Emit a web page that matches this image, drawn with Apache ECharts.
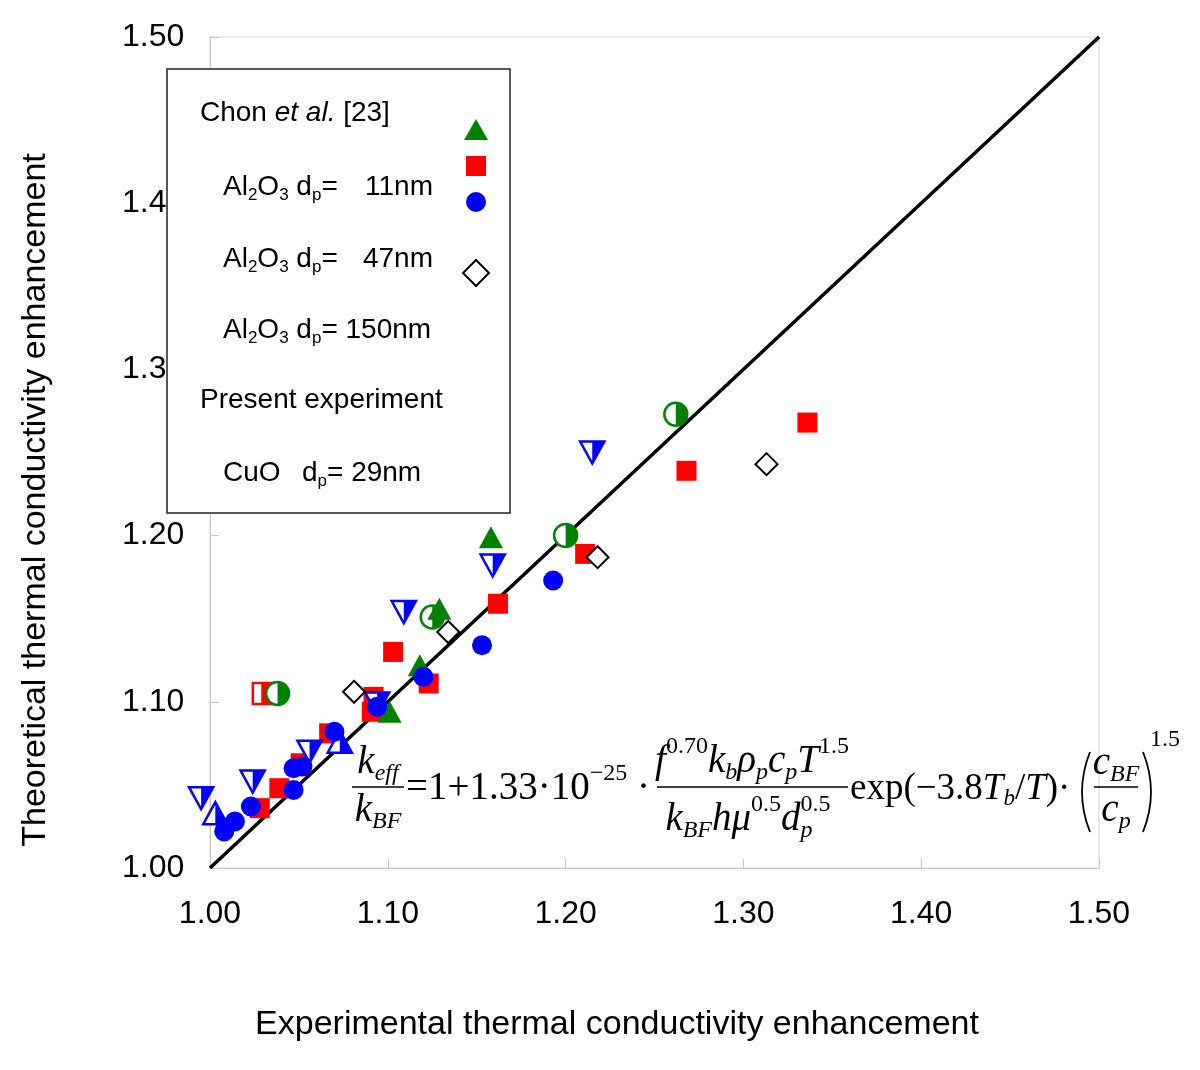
<!DOCTYPE html>
<html>
<head>
<meta charset="utf-8">
<script src="https://cdn.jsdelivr.net/npm/echarts@6/dist/echarts.min.js"></script>
<style>
  html, body { margin: 0; padding: 0; background: #fff; }
  #chart { width: 1200px; height: 1070px; }
</style>
</head>
<body>
<div id="chart"></div>
<script>
// tick labels
const xTicks = ['1.00', '1.10', '1.20', '1.30', '1.40', '1.50'];
const yTicks = ['1.00', '1.10', '1.20', '1.3', '1.4', '1.50'];

// Chon et al. [23]  [experimental, theoretical]
const chonTriangle = [[1.158, 1.199], [1.129, 1.156], [1.118, 1.122], [1.101, 1.094]];
const chonSquare = [[1.336, 1.268], [1.268, 1.239], [1.211, 1.189], [1.162, 1.159], [1.103, 1.130],
  [1.123, 1.111], [1.092, 1.103], [1.091, 1.094], [1.067, 1.081], [1.051, 1.063], [1.039, 1.048], [1.028, 1.036]];
const chonCircle = [[1.193, 1.173], [1.153, 1.134], [1.120, 1.115], [1.094, 1.097], [1.070, 1.082],
  [1.052, 1.061], [1.047, 1.060], [1.047, 1.047], [1.023, 1.037], [1.014, 1.028], [1.008, 1.022]];
const chonDiamond = [[1.313, 1.243], [1.218, 1.187], [1.134, 1.142], [1.081, 1.106]];
const chonHalfTriangle = [[1.003, 1.033], [1.073, 1.076]];
const chonHalfSquare = [[1.030, 1.105]];

// present experiment, CuO dp = 29nm
const cuoDownTriangle = [[1.215, 1.250], [1.159, 1.182], [1.109, 1.154], [1.094, 1.099],
  [1.056, 1.070], [1.024, 1.052], [0.995, 1.042]];
const cuoHalfCircle = [[1.262, 1.273], [1.200, 1.200], [1.125, 1.151], [1.038, 1.105]];

// y = x reference line
const diagonal = [[1.0, 1.0], [1.5, 1.5]];

const GREEN = '#008000', RED = '#ff0000', BLUE = '#0000ff';
const SANS = 'Liberation Sans', SERIF = 'Liberation Serif';

// half open / half filled markers (left open, right filled)
function halfMarker(kind, x, y, color, size) {
  const s = size / 2;
  let outline, half;
  if (kind === 'up') {
    outline = { type: 'polygon', shape: { points: [[x, y - s], [x + s * 1.1, y + s], [x - s * 1.1, y + s]] } };
    half = { type: 'polygon', shape: { points: [[x, y - s], [x + s * 1.1, y + s], [x, y + s]] } };
  } else if (kind === 'down') {
    outline = { type: 'polygon', shape: { points: [[x - s * 1.1, y - s], [x + s * 1.1, y - s], [x, y + s]] } };
    half = { type: 'polygon', shape: { points: [[x, y - s], [x + s * 1.1, y - s], [x, y + s]] } };
  } else if (kind === 'square') {
    outline = { type: 'rect', shape: { x: x - s, y: y - s, width: size, height: size } };
    half = { type: 'rect', shape: { x: x - s * 0.2, y: y - s, width: s * 1.2, height: size } };
  } else {
    outline = { type: 'circle', shape: { cx: x, cy: y, r: s } };
    half = { type: 'sector', shape: { cx: x, cy: y, r: s, r0: 0, startAngle: -Math.PI / 2, endAngle: Math.PI / 2, clockwise: true } };
  }
  outline.style = { fill: '#fff', stroke: color, lineWidth: 2.5 };
  half.style = { fill: color };
  return { type: 'group', children: [outline, half] };
}

function halfSeries(name, data, kind, color, size, z) {
  return {
    name: name, type: 'custom', data: data, z: z,
    encode: { x: 0, y: 1 },
    renderItem: function (params, api) {
      const p = api.coord([api.value(0), api.value(1)]);
      return halfMarker(kind, p[0], p[1], color, size);
    }
  };
}

// lay text runs with sub/superscripts
const measureCtx = document.createElement('canvas').getContext('2d');
function textRun(tokens, x0, y0, size, family, align) {
  const pieces = [];
  let x = 0;
  tokens.forEach(([t, kind, hold]) => {
    const small = kind === 'sub' || kind === 'isub' || kind === 'sup';
    const fs = small ? Math.round(size * 0.62) : size;
    const italic = kind === 'i' || kind === 'isub';
    const dy = (kind === 'sub' || kind === 'isub') ? size * 0.28 : (kind === 'sup' ? -size * 0.38 : 0);
    measureCtx.font = (italic ? 'italic ' : '') + fs + 'px "' + family + '"';
    const w = measureCtx.measureText(t).width;
    pieces.push({ t: t, fs: fs, italic: italic, dx: x, dy: dy });
    if (!hold) x += w;
  });
  const start = align === 'center' ? x0 - x / 2 : (align === 'right' ? x0 - x : x0);
  return pieces.map(p => ({
    type: 'text', x: start + p.dx, y: y0 + p.dy, z: 20,
    style: {
      text: p.t, fontSize: p.fs, fontFamily: family, fontStyle: p.italic ? 'italic' : 'normal',
      fill: '#000', align: 'left', verticalAlign: 'middle'
    }
  }));
}

function hline(x1, x2, y) {
  return { type: 'line', z: 20, shape: { x1: x1, y1: y, x2: x2, y2: y }, style: { stroke: '#000', lineWidth: 1.6 } };
}

function paren(x, top, bottom, bulge) {
  return {
    type: 'bezierCurve', z: 20,
    shape: { x1: x, y1: top, x2: x, y2: bottom, cpx1: x + bulge, cpy1: (top + bottom) / 2 },
    style: { stroke: '#000', lineWidth: 1.8, fill: null }
  };
}

// legend box
const legend = [
  { type: 'rect', z: 15, shape: { x: 167, y: 69, width: 343, height: 444 }, style: { fill: '#fff', stroke: '#222', lineWidth: 1.5 } },
  ...textRun([['Chon ', 'n'], ['et al.', 'i'], [' [23]', 'n']], 200, 113, 28, SANS),
  ...textRun([['Al', 'n'], ['2', 'sub'], ['O', 'n'], ['3', 'sub'], [' d', 'n'], ['p', 'sub'], ['=', 'n']], 223, 187, 28, SANS),
  ...textRun([['11nm', 'n']], 433, 187, 28, SANS, 'right'),
  ...textRun([['Al', 'n'], ['2', 'sub'], ['O', 'n'], ['3', 'sub'], [' d', 'n'], ['p', 'sub'], ['=', 'n']], 223, 259, 28, SANS),
  ...textRun([['47nm', 'n']], 433, 259, 28, SANS, 'right'),
  ...textRun([['Al', 'n'], ['2', 'sub'], ['O', 'n'], ['3', 'sub'], [' d', 'n'], ['p', 'sub'], ['= 150nm', 'n']], 223, 330, 28, SANS),
  ...textRun([['Present experiment', 'n']], 200, 400, 28, SANS),
  ...textRun([['CuO', 'n']], 223, 473, 28, SANS),
  ...textRun([['d', 'n'], ['p', 'sub'], ['= 29nm', 'n']], 302, 473, 28, SANS),
  { type: 'polygon', z: 20, shape: { points: [[476, 119], [488, 140], [464, 140]] }, style: { fill: GREEN } },
  { type: 'rect', z: 20, shape: { x: 466, y: 156, width: 20, height: 20 }, style: { fill: RED } },
  { type: 'circle', z: 20, shape: { cx: 476, cy: 202, r: 10 }, style: { fill: BLUE } },
  { type: 'polygon', z: 20, shape: { points: [[476, 260], [489, 273], [476, 286], [463, 273]] }, style: { fill: '#fff', stroke: '#000', lineWidth: 2 } },
  Object.assign(halfMarker('up', 478, 338, BLUE, 22), { z: 20 }),
  Object.assign(halfMarker('square', 476, 377, RED, 22), { z: 20 }),
  Object.assign(halfMarker('down', 479, 452, BLUE, 22), { z: 20 }),
  Object.assign(halfMarker('circle', 477, 487, GREEN, 22), { z: 20 })
];

// correlation formula
const FS = 39;
const formula = [
  ...textRun([['k', 'i'], ['eff', 'isub']], 378, 763, FS, SERIF, 'center'),
  hline(352, 404, 787),
  ...textRun([['k', 'i'], ['BF', 'isub']], 378, 811, FS, SERIF, 'center'),
  ...textRun([['=1+1.33·10', 'n'], ['−25', 'sup'], [' ·', 'n']], 406, 789, FS, SERIF),
  ...textRun([['f', 'i'], ['0.70', 'sup'], ['k', 'i'], ['b', 'isub'], ['ρ', 'i'], ['p', 'isub'], ['c', 'i'], ['p', 'isub'], ['T', 'i'], ['1.5', 'sup']], 752, 762, FS, SERIF, 'center'),
  hline(657, 848, 787),
  ...textRun([['k', 'i'], ['BF', 'isub'], ['h', 'i'], ['μ', 'i'], ['0.5', 'sup'], ['d', 'i'], ['p', 'isub', true], ['0.5', 'sup']], 748, 820, FS, SERIF, 'center'),
  ...textRun([['exp(−3.8', 'n'], ['T', 'i'], ['b', 'isub'], ['/', 'n'], ['T', 'i'], [')·', 'n']], 850, 789, 37, SERIF),
  paren(1090, 752, 832, -16),
  ...textRun([['c', 'i'], ['BF', 'isub']], 1116, 764, FS, SERIF, 'center'),
  hline(1094, 1138, 787),
  ...textRun([['c', 'i'], ['p', 'isub']], 1116, 811, FS, SERIF, 'center'),
  paren(1143, 752, 832, 16),
  ...textRun([['1.5', 'n']], 1150, 740, 24, SERIF)
];

const titles = [
  { type: 'text', x: 617, y: 1025, style: { text: 'Experimental thermal conductivity enhancement', fontSize: 34, fontFamily: SANS, fill: '#000', align: 'center', verticalAlign: 'middle' } },
  { type: 'text', x: 36, y: 500, rotation: Math.PI / 2, style: { text: 'Theoretical thermal conductivity enhancement', fontSize: 34, fontFamily: SANS, fill: '#000', align: 'center', verticalAlign: 'middle' } }
];

const chart = echarts.init(document.getElementById('chart'));
chart.setOption({
  animation: false,
  backgroundColor: '#fff',
  grid: { left: 210, right: 101, top: 37, bottom: 202, show: true, borderColor: '#d4d4d4', borderWidth: 1 },
  xAxis: {
    type: 'value', min: 1, max: 1.5, interval: 0.1,
    axisLine: { show: true, lineStyle: { color: '#c8c8c8', width: 1 } },
    axisTick: { show: true, inside: true, length: 9, lineStyle: { color: '#c8c8c8' } },
    splitLine: { show: false },
    axisLabel: { formatter: v => xTicks[Math.round((v - 1) * 10)], fontSize: 32, fontFamily: SANS, color: '#000', margin: 30 }
  },
  yAxis: {
    type: 'value', min: 1, max: 1.5, interval: 0.1,
    axisLine: { show: true, lineStyle: { color: '#c8c8c8', width: 1 } },
    axisTick: { show: true, inside: true, length: 9, lineStyle: { color: '#c8c8c8' } },
    splitLine: { show: false },
    axisLabel: { formatter: v => yTicks[Math.round((v - 1) * 10)], fontSize: 32, fontFamily: SANS, color: '#000', margin: 88, align: 'left' }
  },
  graphic: [...titles, ...legend, ...formula],
  series: [
    { name: 'y = x', type: 'line', data: diagonal, showSymbol: false, z: 1, lineStyle: { color: '#000', width: 3.5 } },
    halfSeries('Chon half square', chonHalfSquare, 'square', RED, 21, 2),
    halfSeries('CuO half circle', cuoHalfCircle, 'circle', GREEN, 23, 3),
    { name: 'Chon square', type: 'scatter', data: chonSquare, z: 4, symbol: 'rect', symbolSize: 20, itemStyle: { color: RED, opacity: 1 } },
    halfSeries('Chon half triangle', chonHalfTriangle, 'up', BLUE, 22, 5),
    halfSeries('CuO down triangle', cuoDownTriangle, 'down', BLUE, 22, 6),
    { name: 'Chon triangle', type: 'scatter', data: chonTriangle, z: 7, symbol: 'triangle', symbolSize: [24, 22], itemStyle: { color: GREEN, opacity: 1 } },
    { name: 'Chon diamond', type: 'scatter', data: chonDiamond, z: 8, symbol: 'diamond', symbolSize: [22, 22], itemStyle: { color: '#fff', borderColor: '#000', borderWidth: 2, opacity: 1 } },
    { name: 'Chon circle', type: 'scatter', data: chonCircle, z: 9, symbol: 'circle', symbolSize: 20, itemStyle: { color: BLUE, opacity: 1 } }
  ]
});
</script>
</body>
</html>
